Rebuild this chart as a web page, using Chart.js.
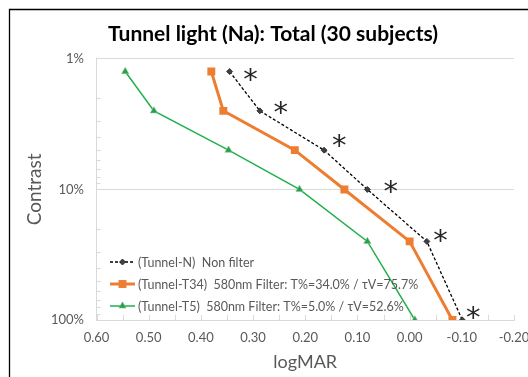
<!DOCTYPE html>
<html>
<head>
<meta charset="utf-8">
<script src="https://cdn.jsdelivr.net/npm/chart.js@4/dist/chart.umd.min.js"></script>
<style>
  html, body { margin: 0; padding: 0; background: #fff; }
  canvas { display: block; }
</style>
</head>
<body>
<canvas id="c" width="528" height="377"></canvas>
<script>
// ---- data ----
const contrastLevels = [1.25, 2.5, 5, 10, 25, 100];
const logmarN   = [0.345, 0.287, 0.164, 0.081, -0.033, -0.101];
const logmarT34 = [0.380, 0.357, 0.220, 0.125, 0.000, -0.082];
const logmarT5  = [0.545, 0.490, 0.347, 0.211, 0.081, -0.010];
const seriesLabels = [
  '(Tunnel-N)  Non filter',
  '(Tunnel-T34)  580nm Filter: T%=34.0% / \u03C4V=75.7%',
  '(Tunnel-T5)  580nm Filter: T%=5.0% / \u03C4V=52.6%'
];
const starLogmar   = [0.305, 0.247, 0.135, 0.036, -0.059, -0.122];
const starContrast = [1.32, 2.37, 4.28, 9.6, 22.7, 88.5];
const starText = '*';
const yTickValues = [1, 10, 100];
const yMinorValues = [2,3,4,5,6,7,8,9,20,30,40,50,60,70,80,90];
const xMinorStep = 0.05;
const titleText = 'Tunnel light (Na): Total (30 subjects)';
const xTitle = 'logMAR';
const yTitle = 'Contrast';

const pts = (xs) => xs.map((x, i) => ({x: x, y: contrastLevels[i]}));

const GRID = '#d9d9d9';
const TXT = '#595959';
const FONT = 'Lato, "Open Sans", sans-serif';

function drawMarker(ctx, style, x, y, r, fill, stroke, bw) {
  ctx.save();
  ctx.fillStyle = fill; ctx.strokeStyle = stroke; ctx.lineWidth = bw; ctx.setLineDash([]);
  ctx.beginPath();
  if (style === 'rect') {
    const s = Math.SQRT1_2 * r;
    ctx.rect(x - s, y - s, 2 * s, 2 * s);
  } else if (style === 'rectRot') {
    ctx.moveTo(x, y - r); ctx.lineTo(x + r, y); ctx.lineTo(x, y + r); ctx.lineTo(x - r, y); ctx.closePath();
  } else if (style === 'triangle') {
    let a = 0;
    ctx.moveTo(x + Math.sin(a) * r, y - Math.cos(a) * r);
    a += 2 * Math.PI / 3; ctx.lineTo(x + Math.sin(a) * r, y - Math.cos(a) * r);
    a += 2 * Math.PI / 3; ctx.lineTo(x + Math.sin(a) * r, y - Math.cos(a) * r);
    ctx.closePath();
  }
  ctx.fill(); if (bw > 0) ctx.stroke();
  ctx.restore();
}

const framePlugin = {
  id: 'frame',
  beforeDraw(chart) {
    const ctx = chart.ctx;
    ctx.save();
    ctx.strokeStyle = '#000'; ctx.lineWidth = 1.3;
    ctx.beginPath();
    ctx.moveTo(9.5, 377); ctx.lineTo(9.5, 9.5); ctx.lineTo(528, 9.5);
    ctx.stroke();
    ctx.restore();
  }
};

const minorTicksPlugin = {
  id: 'minorTicks',
  beforeDatasetsDraw(chart) {
    const ctx = chart.ctx, a = chart.chartArea;
    const xs = chart.scales.x, ys = chart.scales.y;
    ctx.save();
    ctx.strokeStyle = GRID; ctx.lineWidth = 1;
    ctx.beginPath();
    yMinorValues.forEach(v => {
      const py = Math.round(ys.getPixelForValue(v)) + 0.5;
      ctx.moveTo(a.left, py); ctx.lineTo(a.left + 4, py);
    });
    for (let v = xs.min; v <= xs.max + 1e-9; v += xMinorStep) {
      const px = Math.round(xs.getPixelForValue(v)) + 0.5;
      ctx.moveTo(px, a.bottom); ctx.lineTo(px, a.bottom - 5);
    }
    ctx.stroke();
    ctx.restore();
  }
};

const starPlugin = {
  id: 'stars',
  afterDatasetsDraw(chart) {
    const ctx = chart.ctx;
    const xs = chart.scales.x, ys = chart.scales.y;
    ctx.save();
    ctx.fillStyle = '#262626';
    ctx.font = '29px "DejaVu Sans"';
    ctx.textAlign = 'center';
    ctx.textBaseline = 'alphabetic';
    const m = ctx.measureText(starText);
    const off = (m.actualBoundingBoxAscent - m.actualBoundingBoxDescent) / 2;
    starLogmar.forEach((x, i) => {
      ctx.fillText(starText, xs.getPixelForValue(x), ys.getPixelForValue(starContrast[i]) + off);
    });
    ctx.restore();
  }
};

const legendPlugin = {
  id: 'insideLegend',
  afterDraw(chart) {
    const ctx = chart.ctx, a = chart.chartArea;
    const x0 = a.left + 13.5, lineW = 25, y0 = a.bottom - 58, gap = 22;
    ctx.save();
    ctx.font = '12.5px ' + FONT;
    ctx.fillStyle = TXT;
    ctx.textBaseline = 'middle';
    ctx.textAlign = 'left';
    chart.data.datasets.forEach((ds, i) => {
      const y = y0 + i * gap;
      ctx.save();
      ctx.strokeStyle = ds.borderColor; ctx.lineWidth = ds.borderWidth;
      ctx.setLineDash(ds.borderDash || []);
      ctx.beginPath(); ctx.moveTo(x0, y); ctx.lineTo(x0 + lineW, y); ctx.stroke();
      ctx.restore();
      drawMarker(ctx, ds.pointStyle, x0 + lineW / 2, y, ds.pointRadius, ds.pointBackgroundColor, ds.pointBorderColor, ds.pointBorderWidth);
      ctx.fillStyle = TXT;
      ctx.fillText(ds.label, x0 + lineW + 3, y + 0.5);
    });
    ctx.restore();
  }
};

new Chart(document.getElementById('c'), {
  type: 'line',
  data: {
    datasets: [
      {
        label: seriesLabels[0], data: pts(logmarN),
        borderColor: '#000', borderWidth: 1.3, borderDash: [3, 2],
        pointStyle: 'rectRot', pointRadius: 3, pointBackgroundColor: '#404040',
        pointBorderColor: '#262626', pointBorderWidth: 0.8
      },
      {
        label: seriesLabels[1], data: pts(logmarT34),
        borderColor: '#ED7D31', borderWidth: 3,
        pointStyle: 'rect', pointRadius: 5.6, pointBackgroundColor: '#ED7D31',
        pointBorderColor: '#ED7D31', pointBorderWidth: 0
      },
      {
        label: seriesLabels[2], data: pts(logmarT5),
        borderColor: '#22B04B', borderWidth: 1.5,
        pointStyle: 'triangle', pointRadius: 4.2, pointBackgroundColor: '#22A348',
        pointBorderColor: '#8fbf9a', pointBorderWidth: 0.6
      }
    ]
  },
  options: {
    responsive: false,
    animation: false,
    devicePixelRatio: 1,
    layout: { padding: { left: 18, right: 0, top: 0, bottom: 0 } },
    plugins: {
      legend: { display: false },
      tooltip: { enabled: false },
      title: {
        display: true, text: titleText, color: '#000',
        font: { family: FONT, size: 21, weight: 'bold' },
        padding: { top: 21.4, bottom: 12.3 }
      }
    },
    scales: {
      x: {
        type: 'linear', min: -0.2, max: 0.6, reverse: true,
        afterFit(s) { s.height = 57; s.paddingLeft = 0; s.paddingRight = 14; },
        ticks: {
          stepSize: 0.1, color: TXT, padding: 10.5,
          font: { family: FONT, size: 13 },
          callback: (v) => (Math.abs(v) < 1e-9 ? 0 : v).toFixed(2)
        },
        grid: { display: false, drawTicks: false },
        border: { display: true, color: GRID },
        title: {
          display: true, text: xTitle, color: TXT,
          font: { family: FONT, size: 18 }, padding: { top: 0, bottom: 4.5 }
        }
      },
      y: {
        type: 'logarithmic', min: 1, max: 100, reverse: true,
        afterBuildTicks(s) { s.ticks = yTickValues.map(v => ({ value: v })); },
        afterFit(s) { s.width = 78.5; s.paddingTop = 0; s.paddingBottom = 0; },
        ticks: {
          color: TXT, padding: 12.5, autoSkip: false,
          font: { family: FONT, size: 13 },
          callback: (v) => v + '%'
        },
        grid: { color: GRID, drawTicks: false, lineWidth: 1 },
        border: { display: true, color: GRID },
        title: {
          display: true, text: yTitle, color: TXT,
          font: { family: FONT, size: 19 }, padding: { top: 5.6, bottom: 0 }
        }
      }
    }
  },
  plugins: [framePlugin, minorTicksPlugin, starPlugin, legendPlugin]
});
</script>
</body>
</html>
